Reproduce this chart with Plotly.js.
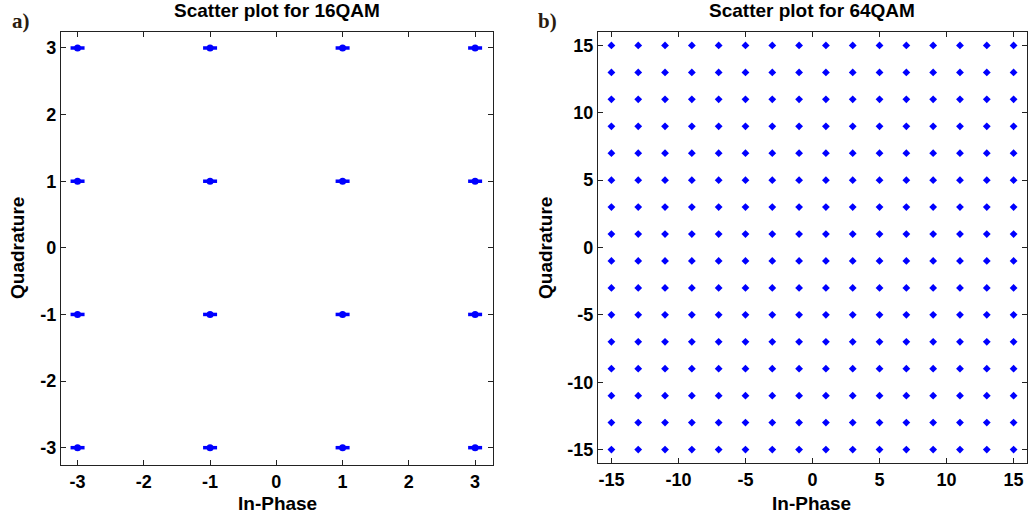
<!DOCTYPE html>
<html>
<head>
<meta charset="utf-8">
<script src="https://cdn.plot.ly/plotly-3.0.1.min.js"></script>
<style>
  html, body { margin: 0; padding: 0; background: #fff; }
  #chart { width: 1029px; height: 520px; }
</style>
</head>
<body>
<div id="chart"></div>
<script>
// Constellation levels
const levels16 = [-3, -1, 1, 3];
const levels64 = [-15, -13, -11, -9, -7, -5, -3, -1, 1, 3, 5, 7, 9, 11, 13, 15];
const ticks16 = [-3, -2, -1, 0, 1, 2, 3];
const ticks64 = [-15, -10, -5, 0, 5, 10, 15];
const title16 = 'Scatter plot for 16QAM';
const title64 = 'Scatter plot for 64QAM';
const xLabel = 'In-Phase';
const yLabel = 'Quadrature';

function grid(levels) {
  const xs = [], ys = [];
  for (const q of levels) for (const i of levels) { xs.push(i); ys.push(q); }
  return {xs, ys};
}
const g16 = grid(levels16);
const g64 = grid(levels64);

const BLUE = '#0000ff';
const traces = [
  {x: g16.xs, y: g16.ys, type: 'scatter', mode: 'markers', xaxis: 'x', yaxis: 'y',
   marker: {symbol: 'circle', size: 7, color: BLUE, line: {width: 0}}, hoverinfo: 'none'},
  {x: g16.xs, y: g16.ys, type: 'scatter', mode: 'markers', xaxis: 'x', yaxis: 'y',
   marker: {symbol: 'line-ew', size: 10, color: BLUE, line: {width: 3.5, color: BLUE}}, hoverinfo: 'none'},
  {x: g64.xs, y: g64.ys, type: 'scatter', mode: 'markers', xaxis: 'x2', yaxis: 'y2',
   marker: {symbol: 'diamond', size: 6, color: BLUE, line: {width: 0}}, hoverinfo: 'none'}
];

const FONT = 'Liberation Sans, Arial, sans-serif';
const axisCommon = {
  showgrid: false, zeroline: false,
  showline: true, linecolor: '#222', linewidth: 1.2, mirror: 'ticks',
  ticks: 'inside', ticklen: 5, tickwidth: 1, tickcolor: '#222',
  tickfont: {family: FONT, size: 18, color: '#000', weight: 'bold'},
  fixedrange: true
};

const L = {x0: 61, x1: 493, y0: 32, y1: 465};
const R = {x0: 598, x1: 1027, y0: 32, y1: 463};
const W = 1029, H = 520;

function ann(text, x, y, size, extra) {
  return Object.assign({text: text, xref: 'paper', yref: 'paper', x: x / W, y: 1 - y / H,
    xanchor: 'center', yanchor: 'middle', showarrow: false,
    font: {family: FONT, size: size, color: '#000'}}, extra || {});
}

const layout = {
  width: W, height: H,
  margin: {l: 0, r: 0, t: 0, b: 0},
  paper_bgcolor: '#fff', plot_bgcolor: '#fff',
  showlegend: false,
  font: {family: FONT, color: '#000'},
  xaxis: Object.assign({}, axisCommon, {
    domain: [L.x0 / W, L.x1 / W], range: [-3.25, 3.27], anchor: 'y',
    tickvals: ticks16, ticktext: ticks16.map(String)
  }),
  yaxis: Object.assign({}, axisCommon, {
    domain: [1 - L.y1 / H, 1 - L.y0 / H], range: [-3.26, 3.24], anchor: 'x',
    tickvals: ticks16, ticktext: ticks16.map(String)
  }),
  xaxis2: Object.assign({}, axisCommon, {
    domain: [R.x0 / W, R.x1 / W], range: [-16, 16], anchor: 'y2',
    tickvals: ticks64, ticktext: ticks64.map(String)
  }),
  yaxis2: Object.assign({}, axisCommon, {
    domain: [1 - R.y1 / H, 1 - R.y0 / H], range: [-16, 16], anchor: 'x2',
    tickvals: ticks64, ticktext: ticks64.map(String)
  }),
  annotations: [
    ann('<b>' + title16 + '</b>', 277, 10, 19),
    ann('<b>' + title64 + '</b>', 812, 10, 19),
    ann('<b>' + xLabel + '</b>', 277, 503, 19),
    ann('<b>' + xLabel + '</b>', 811, 503, 19),
    ann('<b>' + yLabel + '</b>', 17, 248, 19, {textangle: -90}),
    ann('<b>' + yLabel + '</b>', 545, 248, 19, {textangle: -90}),
    ann('<b>a)</b>', 10, 21, 21, {xanchor: 'left', font: {family: 'Liberation Serif, Times New Roman, serif', size: 21, color: '#2a1c10'}}),
    ann('<b>b)</b>', 536, 21, 21, {xanchor: 'left', font: {family: 'Liberation Serif, Times New Roman, serif', size: 21, color: '#2a1c10'}})
  ]
};

Plotly.newPlot('chart', traces, layout, {staticPlot: true, displayModeBar: false});
</script>
</body>
</html>
